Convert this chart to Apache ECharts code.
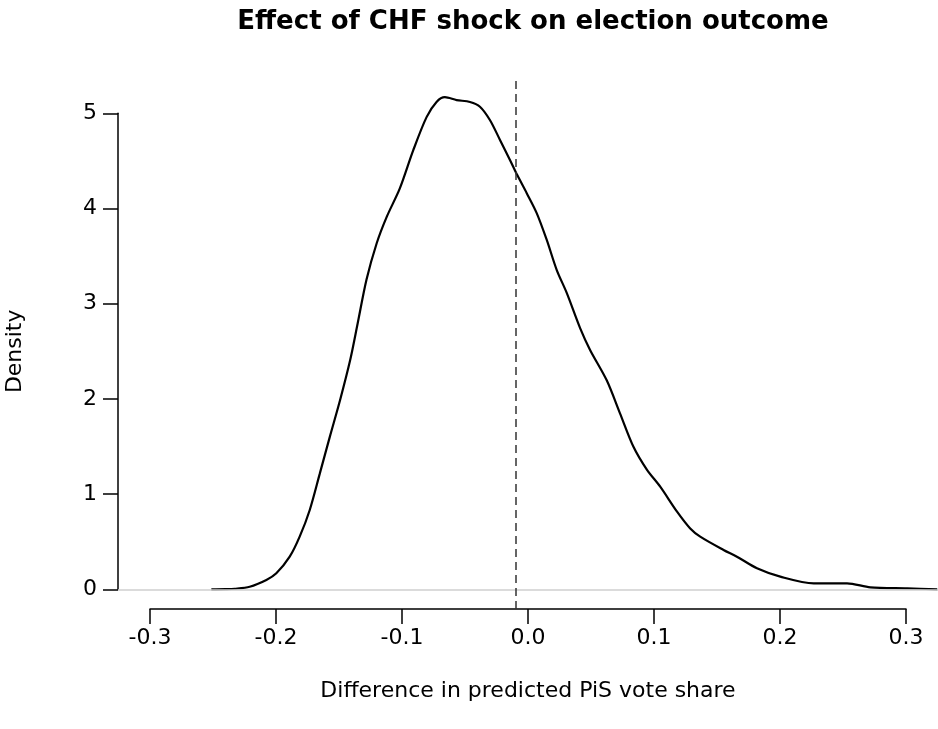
<!DOCTYPE html>
<html>
<head>
<meta charset="utf-8">
<script src="https://cdn.jsdelivr.net/npm/echarts@6/dist/echarts.min.js"></script>
<style>
html, body { margin: 0; padding: 0; background: #fff; }
#chart { width: 938px; height: 729px; }
</style>
</head>
<body>
<div id="chart"></div>
<script>
// density estimate
var densX = [-0.251, -0.240, -0.2325, -0.2206, -0.2074, -0.1995, -0.1889, -0.181, -0.173, -0.165,
             -0.157, -0.149, -0.141, -0.135, -0.128, -0.120, -0.112, -0.1016, -0.091, -0.0804,
             -0.0725, -0.0659, -0.0566, -0.046, -0.0381, -0.0302, -0.0222, -0.0143, -0.0085,
             -0.001, 0.0069, 0.0148, 0.0228, 0.0307, 0.0413, 0.0492, 0.0624, 0.073, 0.0836,
             0.0942, 0.1048, 0.118, 0.1286, 0.1365, 0.155, 0.1656, 0.1815, 0.200, 0.2265,
             0.2529, 0.2714, 0.3006, 0.3244];
var densY = [0.000, 0.002, 0.006, 0.027, 0.098, 0.168, 0.343, 0.554, 0.835, 1.22,
             1.61, 1.99, 2.41, 2.80, 3.26, 3.64, 3.92, 4.22, 4.62, 4.97,
             5.13, 5.18, 5.15, 5.13, 5.08, 4.94, 4.73, 4.52, 4.36,
             4.17, 3.96, 3.68, 3.36, 3.12, 2.75, 2.52, 2.20, 1.85, 1.50,
             1.26, 1.08, 0.82, 0.64, 0.554, 0.414, 0.343, 0.221, 0.133, 0.063,
             0.063, 0.021, 0.010, 0.000];
var cutoff = -0.0085;   // dashed vertical reference
var xTickMin = -0.3, xTickMax = 0.3, xTickStep = 0.1;
var yTickMin = 0, yTickMax = 5, yTickStep = 1;

var FONT = 'DejaVu Sans';

var seriesData = [];
for (var i = 0; i < densX.length; i++) {
    seriesData.push([densX[i], densY[i]]);
}

var dom = document.getElementById('chart');
var myChart = echarts.init(dom, null, { renderer: 'canvas' });

var option = {
    backgroundColor: '#ffffff',
    animation: false,
    title: {
        text: 'Effect of CHF shock on election outcome',
        left: 528,
        textAlign: 'center',
        top: 4,
        textStyle: { fontFamily: FONT, fontSize: 26, fontWeight: 'bold', color: '#000' }
    },
    grid: [
        // plotting region
        { left: 118, right: 0, top: 77, bottom: 120, outerBoundsMode: 'none' },
        // x axis drawn only across the tick range
        { left: 150, right: 32, top: 77, bottom: 120, outerBoundsMode: 'none' },
        // y axis drawn only across the tick range
        { left: 118, right: 0, top: 113.3, bottom: 139.7, outerBoundsMode: 'none' }
    ],
    xAxis: [
        { gridIndex: 0, type: 'value', min: -0.325, max: 0.325, show: false },
        {
            gridIndex: 1, type: 'value', min: xTickMin, max: xTickMax, interval: xTickStep,
            position: 'bottom',
            axisLine: { show: true, lineStyle: { color: '#000', width: 1.5 } },
            axisTick: { show: true, inside: false, length: 15, lineStyle: { color: '#000', width: 1.5 } },
            splitLine: { show: false },
            axisLabel: {
                margin: 18, color: '#000', fontFamily: FONT, fontSize: 22,
                formatter: function (v) { return Math.abs(v) < 1e-9 ? '0.0' : v.toFixed(1); }
            },
            name: 'Difference in predicted PiS vote share',
            nameLocation: 'middle',
            nameGap: 71,
            nameTextStyle: { color: '#000', fontFamily: FONT, fontSize: 22 }
        },
        { gridIndex: 2, type: 'value', show: false }
    ],
    yAxis: [
        { gridIndex: 0, type: 'value', min: -0.2074, max: 5.3926, show: false },
        { gridIndex: 1, type: 'value', show: false },
        {
            gridIndex: 2, type: 'value', min: yTickMin, max: yTickMax, interval: yTickStep,
            position: 'left',
            axisLine: { show: true, lineStyle: { color: '#000', width: 1.5 } },
            axisTick: { show: true, inside: false, length: 15, lineStyle: { color: '#000', width: 1.5 } },
            splitLine: { show: false },
            axisLabel: { margin: 21, color: '#000', fontFamily: FONT, fontSize: 22 },
            name: 'Density',
            nameLocation: 'middle',
            nameRotate: 90,
            nameGap: 92,
            nameTextStyle: { color: '#000', fontFamily: FONT, fontSize: 22 }
        }
    ],
    series: [
        {
            type: 'line',
            xAxisIndex: 0,
            yAxisIndex: 0,
            data: seriesData,
            smooth: 0.3,
            symbol: 'none',
            clip: true,
            lineStyle: { color: '#000', width: 2.2 },
            markLine: {
                silent: true,
                symbol: 'none',
                label: { show: false },
                animation: false,
                data: [
                    { yAxis: 0, lineStyle: { color: '#cfcfcf', type: 'solid', width: 1.5 } },
                    { xAxis: cutoff, lineStyle: { color: '#333', type: [8, 5], width: 1.5 } }
                ]
            }
        }
    ]
};

myChart.setOption(option);
</script>
</body>
</html>
